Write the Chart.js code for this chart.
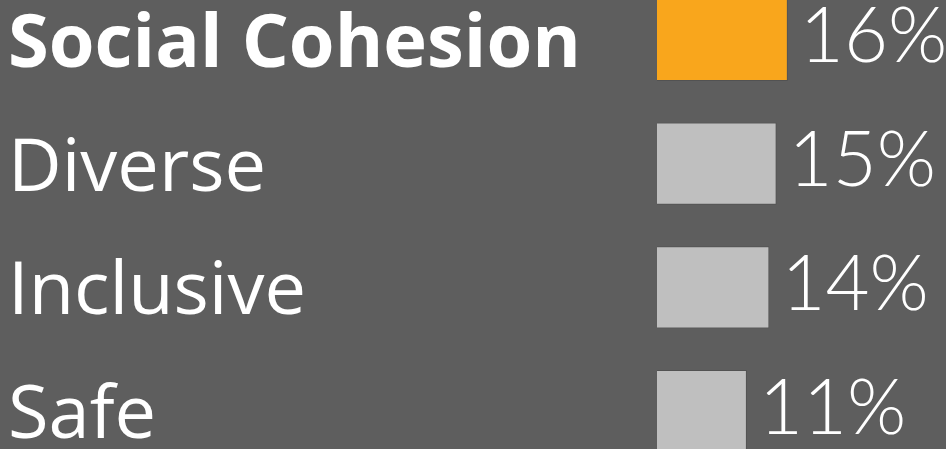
<!DOCTYPE html>
<html>
<head>
<meta charset="utf-8">
<script src="https://cdn.jsdelivr.net/npm/chart.js@4.4.1/dist/chart.umd.min.js"></script>
<style>
  html, body { margin: 0; padding: 0; background: #5e5e5e; overflow: hidden; }
  body { width: 946px; height: 449px; position: relative; }
  #wrap { position: absolute; left: 0; top: -22px; width: 946px; height: 495px; }
</style>
</head>
<body>
<div id="wrap"><canvas id="cohesionChart" width="946" height="495"></canvas></div>
<script>
  // data
  const categories = ['Social Cohesion', 'Diverse', 'Inclusive', 'Safe'];
  const shares = [16.3, 14.9, 14.0, 11.2];
  const barColors = ['#f9a61c', '#bfbfbf', '#bfbfbf', '#bfbfbf'];

  const catFont = '"Open Sans", Lato, sans-serif';
  const valFont = 'Lato, "Open Sans", sans-serif';

  // push the category labels down a little so caps line up with bars
  const nudgeLabels = {
    id: 'nudgeLabels',
    beforeDraw(chart) {
      chart.scales.y.getLabelItems().forEach(function (item) {
        if (!item.nudged) {
          item.options.translation[1] += 6;
          item.nudged = true;
        }
      });
    }
  };

  // value labels at the end of each bar
  const valueLabels = {
    id: 'valueLabels',
    afterDatasetsDraw(chart) {
      const ctx = chart.ctx;
      const meta = chart.getDatasetMeta(0);
      ctx.save();
      ctx.fillStyle = '#ffffff';
      ctx.font = '300 76px ' + valFont;
      ctx.textAlign = 'left';
      ctx.textBaseline = 'middle';
      meta.data.forEach(function (bar, i) {
        ctx.fillText(Math.round(shares[i]) + '%', bar.x + 12, bar.y - 2);
      });
      ctx.restore();
    }
  };

  new Chart(document.getElementById('cohesionChart'), {
    type: 'bar',
    data: {
      labels: categories,
      datasets: [{
        data: shares,
        backgroundColor: barColors,
        borderColor: 'rgba(0,0,0,0.12)',
        borderWidth: 1,
        categoryPercentage: 1,
        barPercentage: 0.663
      }]
    },
    options: {
      indexAxis: 'y',
      responsive: false,
      animation: false,
      layout: { padding: { left: 8, right: 0, top: 0, bottom: 0 } },
      plugins: {
        legend: { display: false },
        tooltip: { enabled: false }
      },
      scales: {
        x: { display: false, min: 0, max: 36 },
        y: {
          grid: { display: false },
          border: { display: false },
          afterFit: function (scale) {
            // labels sit inside their bands, so no extra room top/bottom
            scale.width = 649;
            scale.paddingTop = 0;
            scale.paddingBottom = 0;
          },
          ticks: {
            color: '#ffffff',
            padding: 0,
            crossAlign: 'far',
            font: function (c) {
              return {
                family: catFont,
                size: 74,
                weight: c.index === 0 ? 'bold' : 'normal'
              };
            }
          }
        }
      }
    },
    plugins: [nudgeLabels, valueLabels]
  });
</script>
</body>
</html>
